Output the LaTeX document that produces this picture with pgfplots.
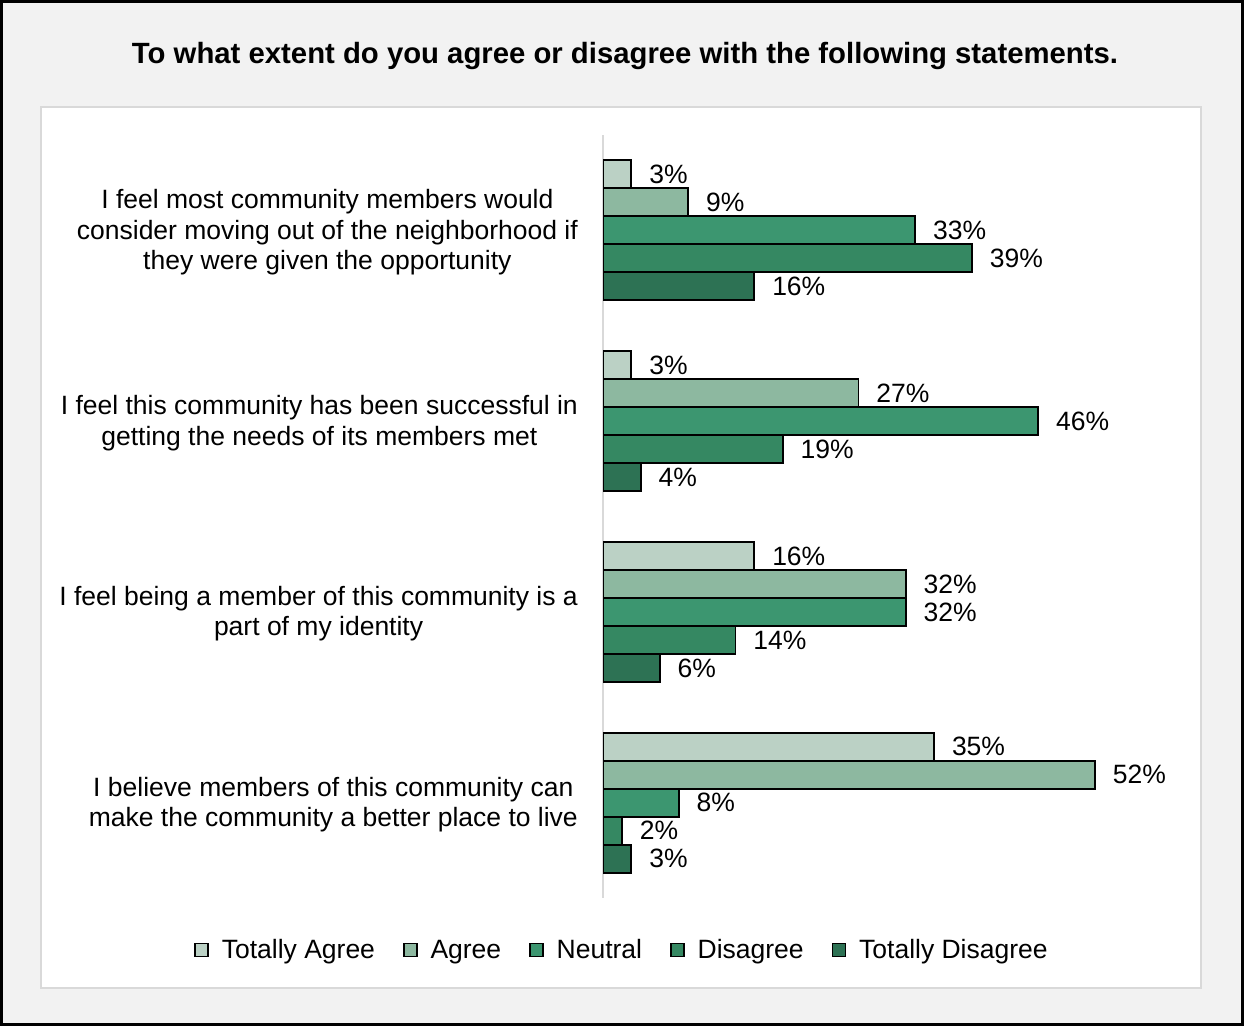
\documentclass[border=0pt]{standalone}
\usepackage{pgfplots}
\pgfplotsset{compat=1.18}
\usepackage{fontspec}
\setmainfont{Liberation Sans}
\definecolor{cTA}{RGB}{187,209,197}
\definecolor{cA}{RGB}{141,184,160}
\definecolor{cN}{RGB}{60,150,112}
\definecolor{cD}{RGB}{53,136,98}
\definecolor{cTD}{RGB}{45,114,84}
\definecolor{bggray}{RGB}{242,242,242}
\definecolor{panelgray}{RGB}{217,217,217}
\newcommand{\lbl}{\fontsize{26.5bp}{30.5bp}\selectfont}
\pgfplotsset{sqleg/.style={legend image code/.code={\draw[##1,line width=1.5bp] (0bp,-6.5bp) rectangle (13bp,6.5bp);}}}
\begin{document}
\begin{tikzpicture}
\draw[line width=3bp, fill=bggray] (1.5bp,1.5bp) rectangle (1242.5bp,1024.5bp);
\draw[line width=2bp, draw=panelgray, fill=white] (41bp,38bp) rectangle (1201bp,919bp);
\node[font=\fontsize{29.3bp}{34bp}\selectfont\bfseries] at (625bp,970bp) {To what extent do you agree or disagree with the following statements.};
\begin{axis}[
  at={(603bp,128bp)}, anchor=south west,
  scale only axis, width=567.6bp, height=763bp,
  xbar, xmin=0, xmax=60, ymin=-0.5, ymax=3.5, y dir=reverse,
  bar width=0.1468,
  hide x axis,
  axis y line*=left,
  y axis line style={draw=panelgray, line width=2bp},
  ytick={0,1,2,3},
  yticklabels={{I feel most community members would\\consider moving out of the neighborhood if\\they were given the opportunity},
               {I feel this community has been successful in\\getting the needs of its members met},
               {I feel being a member of this community is a\\part of my identity},
               {I believe members of this community can\\make the community a better place to live}},
  major tick length=0pt,
  yticklabel style={align=center, inner sep=0pt, xshift=-25bp, yshift=-2bp, font=\lbl},
  /pgf/number format/assume math mode=true,
  point meta=x,
  nodes near coords={\pgfmathprintnumber{\pgfplotspointmeta}\%},
  nodes near coords style={anchor=west, inner sep=0pt, xshift=17bp, font=\lbl, text=black},
  legend columns=5,
  legend style={draw=none, fill=none, font=\lbl, at={(0.0335,-0.068)}, anchor=center,
     /tikz/every even column/.append style={column sep=26bp},
     /tikz/every odd column/.append style={column sep=11bp}},
  legend cell align=left,
]
\addplot[fill=cTA, draw=black, line width=1.8bp, bar shift=-0.2936, sqleg] coordinates {(3,0) (3,1) (16,2) (35,3)};
\addplot[fill=cA, draw=black, line width=1.8bp, bar shift=-0.1468, sqleg] coordinates {(9,0) (27,1) (32,2) (52,3)};
\addplot[fill=cN, draw=black, line width=1.8bp, bar shift=0, sqleg] coordinates {(33,0) (46,1) (32,2) (8,3)};
\addplot[fill=cD, draw=black, line width=1.8bp, bar shift=0.1468, sqleg] coordinates {(39,0) (19,1) (14,2) (2,3)};
\addplot[fill=cTD, draw=black, line width=1.8bp, bar shift=0.2936, sqleg] coordinates {(16,0) (4,1) (6,2) (3,3)};
\legend{Totally Agree, Agree, Neutral, Disagree, Totally Disagree}
\end{axis}
\end{tikzpicture}
\end{document}
